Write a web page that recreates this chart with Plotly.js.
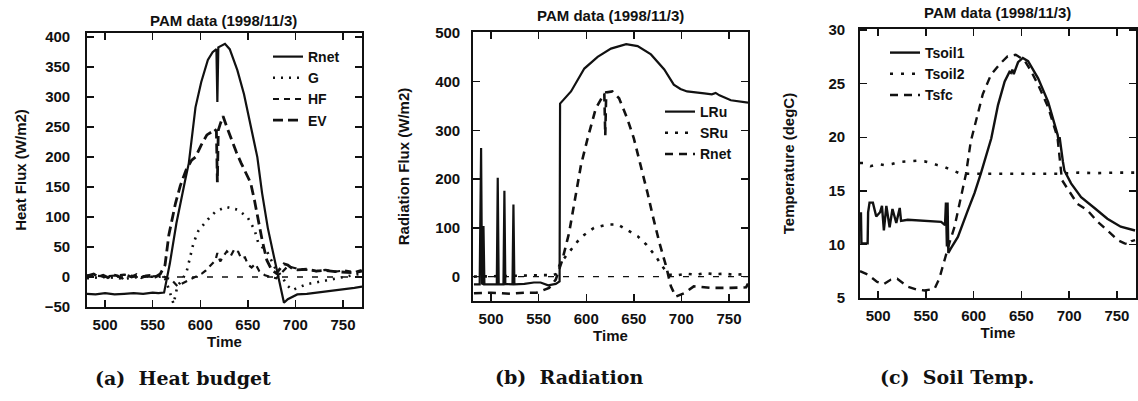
<!DOCTYPE html>
<html>
<head>
<meta charset="utf-8">
<script src="https://cdn.plot.ly/plotly-3.0.1.min.js"></script>
<style>html,body{margin:0;padding:0;background:#fff;}#chart{width:1138px;height:401px;}</style>
</head>
<body>
<div id="chart"></div>
<script>
// ---------- (a) Heat budget ----------
const aRnetT = [481,490,500,510,520,530,540,550,556,562,568,575,584,588,595,601,608,613,617,618,619,622,626,631,639,646,653,660,665,671,678,683,688,692,702,712,722,732,742,752,762,770];
const aRnetV = [-28,-29,-27,-29,-28,-27,-28,-26,-27,-26,22,90,160,190,283,325,362,375,380,292,383,386,389,380,345,305,250,200,140,82,30,-8,-43,-37,-29,-28,-26,-24,-23,-21,-18,-16];
const aGT = [481,500,520,540,555,562,567,572,576,581,586,593,598,608,616,627,640,650,657,661,671,678,686,692,697,702,712,722,732,742,752,762,770];
const aGV = [-2,0,-3,1,0,2,-20,-45,-15,-5,11,57,77,96,109,117,112,99,79,57,40,17,0,-15,-22,-18,-12,-9,-6,-3,0,3,6];
const aHFT = [481,500,520,540,560,570,576,581,588,595,602,606,612,616,618,621,625,628,632,636,640,643,647,650,654,658,662,668,674,680,686,692,702,712,722,732,742,752,762,770];
const aHFV = [3,1,4,0,2,-5,-15,-11,-5,0,6,11,22,28,40,26,36,43,35,47,42,31,33,21,16,22,10,3,0,-2,8,18,14,12,10,12,9,11,8,12];
const aEVT = [481,488,493,498,503,508,513,518,523,528,533,538,543,548,553,558,563,567,574,579,585,591,595,601,607,612,615,617,618,619,621,624,628,633,638,643,648,653,657,660,665,670,675,680,684,688,692,697,702,712,722,732,742,752,762,770];
const aEVV = [2,5,0,3,-1,4,2,-2,3,0,4,-1,2,3,0,5,20,70,123,152,178,195,200,220,237,242,247,243,158,245,255,268,250,228,208,190,173,157,128,102,62,28,12,6,15,22,20,14,12,13,10,11,9,8,7,10];

// ---------- (b) Radiation ----------
const bLRuT = [482,488,489.5,490.5,491.5,492,493,505,506,507,508,513,514,515,522.5,523.5,524.5,535,545,552,560,568,572,572.5,584,598,612,626,642,654,668,682,692,699,706,724,732,736,740,752,770];
const bLRuV = [-16,-16,264,-14,-15,104,-16,-17,-16,203,-16,-16,176,-15,-16,148,-16,-15,-12,-12,-18,-15,-10,355,380,427,451,468,477,473,456,425,394,385,380,376,374,377,372,362,357];
const bSRuT = [482,500,520,540,555,565,568,573,584,594,608,622,633,643,654,663,673,680,687,696,705,715,725,735,745,755,770];
const bSRuV = [0,1,2,3,3,3,5,28,55,80,100,107,107,96,83,66,42,21,4,3,6,4,7,5,6,4,5];
const bRnetT = [482,500,520,535,548,561,568,575,582,587,593,594.5,601.5,610,619,620,621,627.5,634.5,643,650,657,659,664.5,670,677,684,689,694,703,713,731,752,768,770];
const bRnetV = [-34,-33,-35,-33,-33,-23,-6,35,90,145,206,229,284,345,376,290,378,380,366,325,284,232,215,171,124,69,21,-20,-41,-34,-20,-23,-23,-22,-14];

// ---------- (c) Soil Temp. ----------
const cTs1T = [481,482,482.5,489,489.5,491,494.5,498,502,504,506,508.6,512,515,519,522.6,524,531,566,570,571,572,572.7,573.5,576,583.5,594,601,607.5,618.5,625.5,632.5,637.5,639,640.5,642,646.5,651.5,657,667.5,678,688,689,690,693.5,695,702,712.5,726.5,740,754,769];
const cTs1V = [12.9,12.9,10.1,10.1,13.0,13.9,13.9,12.6,13.0,13.6,11.3,13.6,11.6,13.3,12.0,13.4,12.2,12.3,12.1,11.8,13.9,9.8,13.9,9.2,9.6,10.7,13.2,14.8,16.6,19.9,23.0,25.2,26.1,26.0,26.3,25.9,27.0,27.4,27.1,25.5,23.3,20.2,19.6,20.0,17.7,16.9,15.7,14.4,13.4,12.4,11.65,11.3];
const cTs2T = [481,486,492,500,507,514.5,522,531,540,548.5,556,562,569,575,580,585,590,610,630,650,670,690,710,730,750,770];
const cTs2V = [17.6,17.6,17.3,17.5,17.4,17.5,17.7,17.75,17.8,17.75,17.6,17.4,17.25,17.0,16.8,16.65,16.6,16.6,16.6,16.55,16.6,16.6,16.7,16.65,16.7,16.7];
const cTsfcT = [481,489,499,506,513,520,531,540,548.5,559,564,569,574.5,580,585.5,592,597,602.5,609.5,618,627,635.5,644,653,660,668,678,686,688,692.5,701.5,708.5,719,730,740,751,758,762,765,769];
const cTsfcV = [7.5,7.2,6.5,6.3,6.7,6.8,6.05,5.8,5.7,5.85,6.8,8.5,10.1,11.65,13.8,16.6,19.6,21.5,24.0,25.8,26.8,27.55,27.7,27.2,26.2,24.8,22.8,20.5,19.8,16.0,14.8,13.8,13.2,12.1,11.3,10.4,10.1,10.0,10.3,10.4];

const timeTicks = [500,550,600,650,700,750];
const titleText = 'PAM data (1998/11/3)';

const FONT = 'Liberation Sans, Arial, Helvetica, sans-serif';
const K = '#111';
const txt = (s) => ({family: FONT, size: s, color: K, weight: 'bold'});

function tr(x, y, name, xa, ya, dash, w, leg) {
  return {x: x, y: y, name: name, type: 'scatter', mode: 'lines', xaxis: xa, yaxis: ya,
    legend: leg, line: {color: K, width: w, dash: dash}};
}

const data = [
  tr(aRnetT, aRnetV, 'Rnet', 'x', 'y', 'solid', 2.2, 'legend'),
  tr(aGT, aGV, 'G', 'x', 'y', '2px,6px', 2.6, 'legend'),
  tr(aHFT, aHFV, 'HF', 'x', 'y', '6px,5px', 2.2, 'legend'),
  tr(aEVT, aEVV, 'EV', 'x', 'y', '10px,5px', 2.8, 'legend'),
  tr(bLRuT, bLRuV, 'LRu', 'x2', 'y2', 'solid', 2.2, 'legend2'),
  tr(bSRuT, bSRuV, 'SRu', 'x2', 'y2', '3px,7px', 2.6, 'legend2'),
  tr(bRnetT, bRnetV, 'Rnet', 'x2', 'y2', '8px,6px', 2.6, 'legend2'),
  tr(cTs1T, cTs1V, 'Tsoil1', 'x3', 'y3', 'solid', 2.4, 'legend3'),
  tr(cTs2T, cTs2V, 'Tsoil2', 'x3', 'y3', '3px,8px', 2.6, 'legend3'),
  tr(cTsfcT, cTsfcV, 'Tsfc', 'x3', 'y3', '8px,6px', 2.4, 'legend3')
];

function xax(dom, anchor, standoff) {
  return {domain: dom, anchor: anchor, range: [481, 770], tickvals: timeTicks,
    ticks: 'inside', ticklen: 7, tickwidth: 1.4, tickcolor: K, mirror: 'allticks',
    showline: true, linecolor: K, linewidth: 1.8, showgrid: false, zeroline: false,
    ticklabelstandoff: 3,
    tickfont: txt(15),
    title: {text: 'Time', font: txt(15), standoff: standoff}};
}
function yax(dom, anchor, range, ticks, title, standoff, lblstand) {
  return {domain: dom, anchor: anchor, range: range, tickvals: ticks,
    ticks: 'inside', ticklen: 7, tickwidth: 1.4, tickcolor: K, mirror: 'allticks',
    showline: true, linecolor: K, linewidth: 1.8, showgrid: false, zeroline: false,
    ticklabelstandoff: lblstand,
    tickfont: txt(15),
    title: {text: title, font: txt(15), standoff: standoff}};
}

const zeroLine = (xr, yr) => ({type: 'line', xref: xr + ' domain', yref: yr, x0: 0, x1: 1, y0: 0, y1: 0,
  line: {color: K, width: 1.4, dash: '6px,9px'}, layer: 'below'});

const capFont = {family: 'DejaVu Serif, serif', size: 19, color: K, weight: 'bold'};
const legFont = txt(14);

const layout = {
  width: 1138, height: 401, margin: {l: 0, r: 0, t: 0, b: 0},
  paper_bgcolor: '#fff', plot_bgcolor: '#fff',
  xaxis: xax([0.07645, 0.3181], 'y', 2),
  yaxis: yax([0.23441, 0.91771], 'x', [-50, 407], [-50,0,50,100,150,200,250,300,350,400], 'Heat Flux (W/m2)', 14, 12),
  xaxis2: xax([0.41564, 0.65729], 'y2', 2),
  yaxis2: yax([0.24938, 0.9202], 'x2', [-50, 502], [0,100,200,300,400,500], 'Radiation Flux (W/m2)', 22, 8),
  xaxis3: xax([0.75571, 0.99824], 'y3', 2),
  yaxis3: yax([0.25686, 0.92768], 'x3', [5, 30.1], [5,10,15,20,25,30], 'Temperature (degC)', 30, 10),
  shapes: [zeroLine('x', 'y'), zeroLine('x2', 'y2')],
  legend: {x: 268/1138, y: 1 - 41/401, xanchor: 'left', yanchor: 'top', bgcolor: 'rgba(0,0,0,0)',
    font: legFont, itemwidth: 30, tracegroupgap: 0},
  legend2: {x: 660/1138, y: 1 - 96/401, xanchor: 'left', yanchor: 'top', bgcolor: 'rgba(0,0,0,0)',
    font: legFont, itemwidth: 30},
  legend3: {x: 885/1138, y: 1 - 37/401, xanchor: 'left', yanchor: 'top', bgcolor: 'rgba(0,0,0,0)',
    font: legFont, itemwidth: 30},
  annotations: [
    {text: titleText, xref: 'paper', yref: 'paper', x: 223/1138, y: 1 - 20/401, showarrow: false, font: txt(15), xanchor: 'center', yanchor: 'middle'},
    {text: titleText, xref: 'paper', yref: 'paper', x: 610/1138, y: 1 - 15/401, showarrow: false, font: txt(15), xanchor: 'center', yanchor: 'middle'},
    {text: titleText, xref: 'paper', yref: 'paper', x: 997/1138, y: 1 - 12/401, showarrow: false, font: txt(15), xanchor: 'center', yanchor: 'middle'},
    {text: '(a)  Heat budget', xref: 'paper', yref: 'paper', x: 183/1138, y: 1 - 378/401, showarrow: false, font: capFont, xanchor: 'center', yanchor: 'middle'},
    {text: '(b)  Radiation', xref: 'paper', yref: 'paper', x: 569/1138, y: 1 - 377/401, showarrow: false, font: capFont, xanchor: 'center', yanchor: 'middle'},
    {text: '(c)  Soil Temp.', xref: 'paper', yref: 'paper', x: 957/1138, y: 1 - 377/401, showarrow: false, font: capFont, xanchor: 'center', yanchor: 'middle'}
  ]
};

Plotly.newPlot('chart', data, layout, {displayModeBar: false, staticPlot: true});
</script>
</body>
</html>
